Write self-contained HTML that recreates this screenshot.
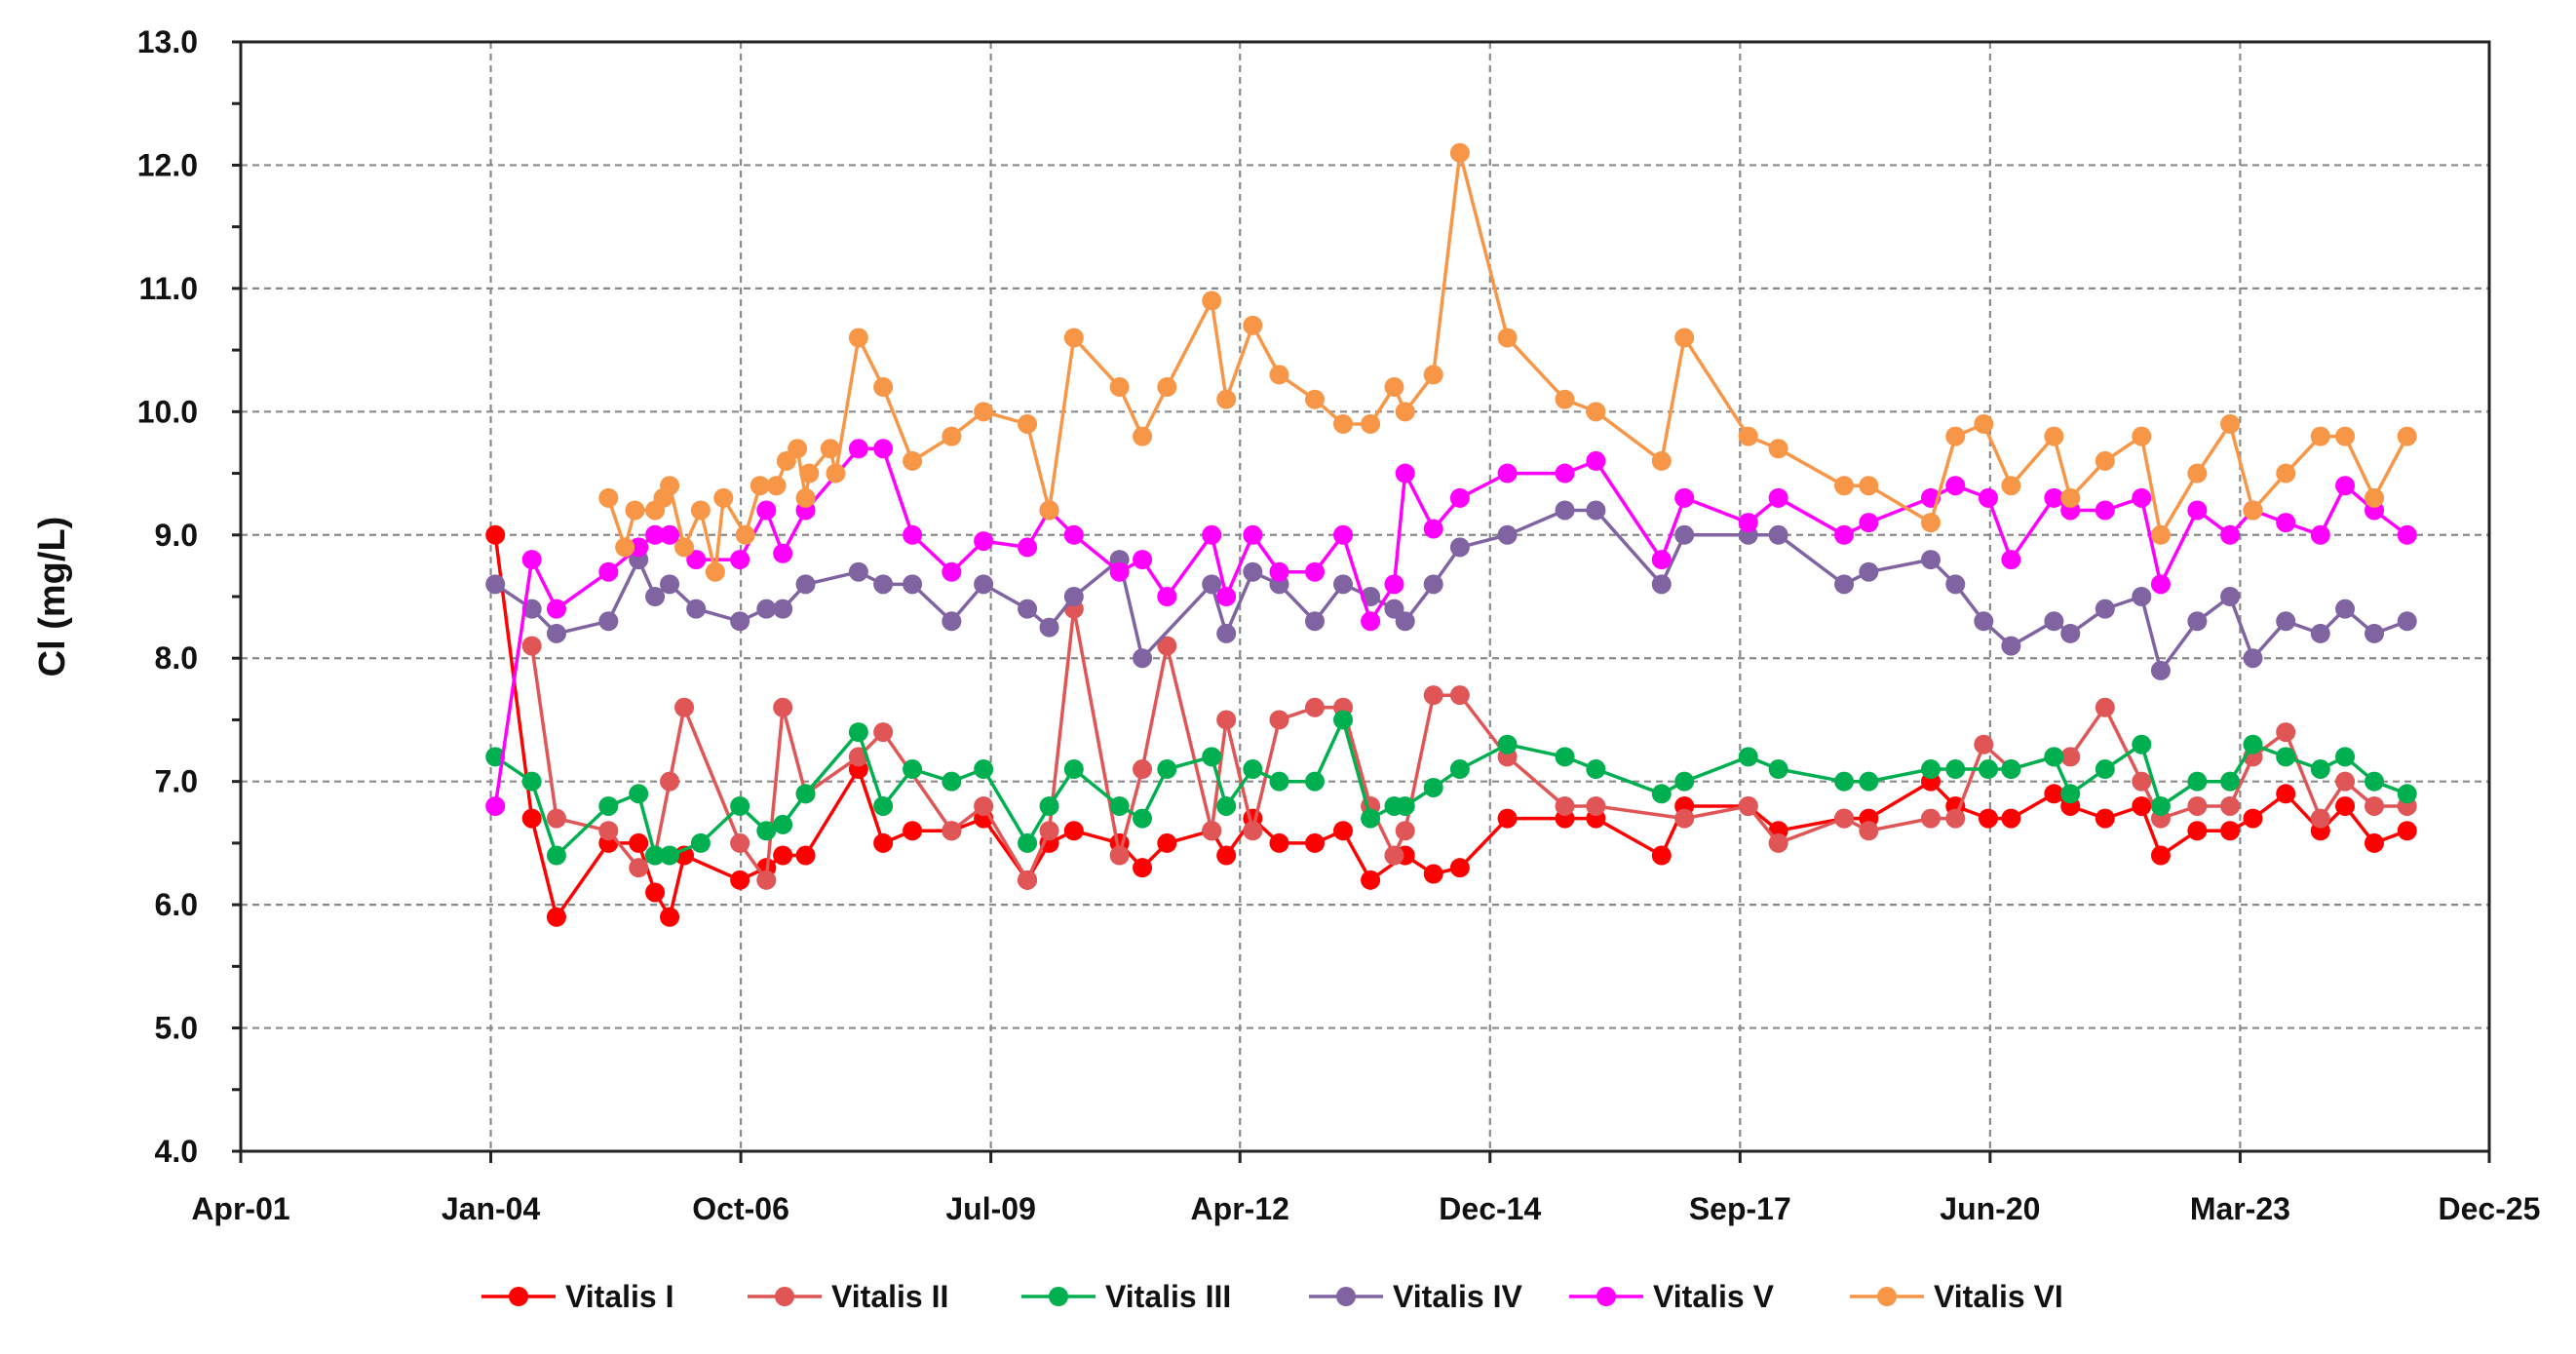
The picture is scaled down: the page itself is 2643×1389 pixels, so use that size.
<!DOCTYPE html>
<html><head><meta charset="utf-8"><style>
html,body{margin:0;padding:0;background:#fff;}
svg{display:block;font-family:"Liberation Sans",Arial,sans-serif;font-weight:bold;}
</style></head><body>
<svg id="chart" width="2643" height="1389" viewBox="0 0 2643 1389" xmlns="http://www.w3.org/2000/svg"></svg>
<script>
const seriesNames = ["Vitalis I","Vitalis II","Vitalis III","Vitalis IV","Vitalis V","Vitalis VI"];
const seriesColors = ["#ff0000","#e05555","#00b050","#8064a2","#ff00ff","#f79646"];
const yTicks = [4,5,6,7,8,9,10,11,12,13];
const xTickLabels = ["Apr-01","Jan-04","Oct-06","Jul-09","Apr-12","Dec-14","Sep-17","Jun-20","Mar-23","Dec-25"];
const xTickYears = [2001.30,2004.04,2006.78,2009.52,2012.25,2014.99,2017.73,2020.47,2023.21,2025.94];

const t1 = [2004.09,2004.49,2004.76,2005.33,2005.66,2005.84,2006.00,2006.16,2006.77,2007.06,2007.24,2007.49,2008.07,2008.34,2008.66,2009.09,2009.44,2009.92,2010.16,2010.43,2010.93,2011.18,2011.45,2011.94,2012.10,2012.39,2012.68,2013.07,2013.38,2013.68,2014.06,2014.37,2014.66,2015.18,2015.81,2016.15,2016.87,2017.12,2017.82,2018.15,2018.87,2019.14,2019.82,2020.09,2020.45,2020.70,2021.17,2021.35,2021.73,2022.13,2022.34,2022.74,2023.10,2023.35,2023.71,2024.09,2024.36,2024.68,2025.04];
const v1 = [9.0,6.7,5.9,6.5,6.5,6.1,5.9,6.4,6.2,6.3,6.4,6.4,7.1,6.5,6.6,6.6,6.7,6.2,6.5,6.6,6.5,6.3,6.5,6.6,6.4,6.7,6.5,6.5,6.6,6.2,6.4,6.25,6.3,6.7,6.7,6.7,6.4,6.8,6.8,6.6,6.7,6.7,7.0,6.8,6.7,6.7,6.9,6.8,6.7,6.8,6.4,6.6,6.6,6.7,6.9,6.6,6.8,6.5,6.6];

const t2 = [2004.49,2004.76,2005.33,2005.66,2005.84,2006.00,2006.16,2006.77,2007.06,2007.24,2007.49,2008.07,2008.34,2009.09,2009.44,2009.92,2010.16,2010.43,2010.93,2011.18,2011.45,2011.94,2012.10,2012.39,2012.68,2013.07,2013.38,2013.68,2013.94,2014.06,2014.37,2014.66,2015.18,2015.81,2016.15,2017.12,2017.82,2018.15,2018.87,2019.14,2019.82,2020.09,2020.40,2020.70,2021.17,2021.35,2021.73,2022.13,2022.34,2022.74,2023.10,2023.35,2023.71,2024.09,2024.36,2024.68,2025.04];
const v2 = [8.1,6.7,6.6,6.3,6.4,7.0,7.6,6.5,6.2,7.6,6.9,7.2,7.4,6.6,6.8,6.2,6.6,8.4,6.4,7.1,8.1,6.6,7.5,6.6,7.5,7.6,7.6,6.8,6.4,6.6,7.7,7.7,7.2,6.8,6.8,6.7,6.8,6.5,6.7,6.6,6.7,6.7,7.3,7.1,7.2,7.2,7.6,7.0,6.7,6.8,6.8,7.2,7.4,6.7,7.0,6.8,6.8];

const t3 = [2004.09,2004.49,2004.76,2005.33,2005.66,2005.84,2006.00,2006.34,2006.77,2007.06,2007.24,2007.49,2008.07,2008.34,2008.66,2009.09,2009.44,2009.92,2010.16,2010.43,2010.93,2011.18,2011.45,2011.94,2012.10,2012.39,2012.68,2013.07,2013.38,2013.68,2013.94,2014.06,2014.37,2014.66,2015.18,2015.81,2016.15,2016.87,2017.12,2017.82,2018.15,2018.87,2019.14,2019.82,2020.09,2020.45,2020.70,2021.17,2021.35,2021.73,2022.13,2022.34,2022.74,2023.10,2023.35,2023.71,2024.09,2024.36,2024.68,2025.04];
const v3 = [7.2,7.0,6.4,6.8,6.9,6.4,6.4,6.5,6.8,6.6,6.65,6.9,7.4,6.8,7.1,7.0,7.1,6.5,6.8,7.1,6.8,6.7,7.1,7.2,6.8,7.1,7.0,7.0,7.5,6.7,6.8,6.8,6.95,7.1,7.3,7.2,7.1,6.9,7.0,7.2,7.1,7.0,7.0,7.1,7.1,7.1,7.1,7.2,6.9,7.1,7.3,6.8,7.0,7.0,7.3,7.2,7.1,7.2,7.0,6.9];

const t4 = [2004.09,2004.49,2004.76,2005.33,2005.66,2005.84,2006.00,2006.29,2006.77,2007.06,2007.24,2007.49,2008.07,2008.34,2008.66,2009.09,2009.44,2009.92,2010.16,2010.43,2010.93,2011.18,2011.94,2012.10,2012.39,2012.68,2013.07,2013.38,2013.68,2013.94,2014.06,2014.37,2014.66,2015.18,2015.81,2016.15,2016.87,2017.12,2017.82,2018.15,2018.87,2019.14,2019.82,2020.09,2020.40,2020.70,2021.17,2021.35,2021.73,2022.13,2022.34,2022.74,2023.10,2023.35,2023.71,2024.09,2024.36,2024.68,2025.04];
const v4 = [8.6,8.4,8.2,8.3,8.8,8.5,8.6,8.4,8.3,8.4,8.4,8.6,8.7,8.6,8.6,8.3,8.6,8.4,8.25,8.5,8.8,8.0,8.6,8.2,8.7,8.6,8.3,8.6,8.5,8.4,8.3,8.6,8.9,9.0,9.2,9.2,8.6,9.0,9.0,9.0,8.6,8.7,8.8,8.6,8.3,8.1,8.3,8.2,8.4,8.5,7.9,8.3,8.5,8.0,8.3,8.2,8.4,8.2,8.3];

const t5 = [2004.09,2004.49,2004.76,2005.33,2005.66,2005.84,2006.00,2006.29,2006.77,2007.06,2007.24,2007.49,2008.07,2008.34,2008.66,2009.09,2009.44,2009.92,2010.16,2010.43,2010.93,2011.18,2011.45,2011.94,2012.10,2012.39,2012.68,2013.07,2013.38,2013.68,2013.94,2014.06,2014.37,2014.66,2015.18,2015.81,2016.15,2016.87,2017.12,2017.82,2018.15,2018.87,2019.14,2019.82,2020.09,2020.45,2020.70,2021.17,2021.35,2021.73,2022.13,2022.34,2022.74,2023.10,2023.35,2023.71,2024.09,2024.36,2024.68,2025.04];
const v5 = [6.8,8.8,8.4,8.7,8.9,9.0,9.0,8.8,8.8,9.2,8.85,9.2,9.7,9.7,9.0,8.7,8.95,8.9,9.2,9.0,8.7,8.8,8.5,9.0,8.5,9.0,8.7,8.7,9.0,8.3,8.6,9.5,9.05,9.3,9.5,9.5,9.6,8.8,9.3,9.1,9.3,9.0,9.1,9.3,9.4,9.3,8.8,9.3,9.2,9.2,9.3,8.6,9.2,9.0,9.2,9.1,9.0,9.4,9.2,9.0];

const t6 = [2005.33,2005.51,2005.62,2005.84,2005.93,2006.00,2006.16,2006.34,2006.50,2006.59,2006.83,2006.99,2007.17,2007.28,2007.40,2007.49,2007.53,2007.76,2007.82,2008.07,2008.34,2008.66,2009.09,2009.44,2009.92,2010.16,2010.43,2010.93,2011.18,2011.45,2011.94,2012.10,2012.39,2012.68,2013.07,2013.38,2013.68,2013.94,2014.06,2014.37,2014.66,2015.18,2015.81,2016.15,2016.87,2017.12,2017.82,2018.15,2018.87,2019.14,2019.82,2020.09,2020.40,2020.70,2021.17,2021.35,2021.73,2022.13,2022.34,2022.74,2023.10,2023.35,2023.71,2024.09,2024.36,2024.68,2025.04];
const v6 = [9.3,8.9,9.2,9.2,9.3,9.4,8.9,9.2,8.7,9.3,9.0,9.4,9.4,9.6,9.7,9.3,9.5,9.7,9.5,10.6,10.2,9.6,9.8,10.0,9.9,9.2,10.6,10.2,9.8,10.2,10.9,10.1,10.7,10.3,10.1,9.9,9.9,10.2,10.0,10.3,12.1,10.6,10.1,10.0,9.6,10.6,9.8,9.7,9.4,9.4,9.1,9.8,9.9,9.4,9.8,9.3,9.6,9.8,9.0,9.5,9.9,9.2,9.5,9.8,9.8,9.3,9.8];

const seriesT = [t1,t2,t3,t4,t5,t6];
const seriesV = [v1,v2,v3,v4,v5,v6];

const X0=247, X1=2554, Y0=1181, Y1=43;
const xMin=2001.30, xMax=2025.94, yMin=4, yMax=13;
function xs(t){return X0+(t-xMin)/(xMax-xMin)*(X1-X0);}
function ys(v){return Y0-(v-yMin)/(yMax-yMin)*(Y0-Y1);}

const svg=document.getElementById('chart');
const NS='http://www.w3.org/2000/svg';
function mk(tag,attrs,parent){const e=document.createElementNS(NS,tag);for(const k in attrs)e.setAttribute(k,attrs[k]);(parent||svg).appendChild(e);return e;}

// grid
const grid=mk('g',{});


yTicks.forEach(v=>{ if(v>yMin&&v<yMax){const l=mk('line',{x1:X0,x2:X1,y1:ys(v),y2:ys(v),stroke:'#8a8a8a','stroke-width':2.2,'stroke-dasharray':'7,5'},grid);

}});
xTickYears.forEach(t=>{ if(t>xMin+0.01&&t<xMax-0.01){const l=mk('line',{x1:xs(t),x2:xs(t),y1:Y1,y2:Y0,stroke:'#8a8a8a','stroke-width':2.2,'stroke-dasharray':'7,5'},grid);

}});

// axes box
const box=mk('rect',{x:X0,y:Y1,width:X1-X0,height:Y0-Y1,fill:'none',stroke:'#222','stroke-width':3});



// y ticks + labels
const yAxis=mk('g',{});


for(let v=yMin;v<=yMax+0.001;v+=0.5){mk('line',{x1:X0-9,x2:X0,y1:ys(v),y2:ys(v),stroke:'#222','stroke-width':3},yAxis);}
yTicks.forEach(v=>{const t=mk('text',{x:X0-44,y:ys(v)+11,'text-anchor':'end','font-size':32,fill:'#111'},yAxis);t.textContent=v.toFixed(1);

});
const yt=mk('text',{x:0,y:0,transform:`translate(66,${(Y0+Y1)/2}) rotate(-90)`,'text-anchor':'middle','font-size':38,fill:'#111'});
yt.textContent='Cl (mg/L)';



// x ticks + labels
const xAxis=mk('g',{});


xTickYears.forEach((t,i)=>{mk('line',{x1:xs(t),x2:xs(t),y1:Y0,y2:Y0+12,stroke:'#222','stroke-width':3},xAxis);
const tx=mk('text',{x:xs(t),y:Y0+70,'text-anchor':'middle','font-size':32,fill:'#111'},xAxis);tx.textContent=xTickLabels[i];

});

// series
seriesNames.forEach((name,si)=>{
  const g=mk('g',{});
  
  
  const T=seriesT[si],V=seriesV[si];
  const pts=T.map((t,i)=>xs(t).toFixed(1)+','+ys(V[i]).toFixed(1)).join(' ');
  const pl=mk('polyline',{points:pts,fill:'none',stroke:seriesColors[si],'stroke-width':3.5,'stroke-linejoin':'round'},g);
  
  
  T.forEach((t,i)=>{const c=mk('circle',{cx:xs(t),cy:ys(V[i]),r:10,fill:seriesColors[si]},g);
  
  });
});

// legend
const legX=[494,767,1048,1343,1610,1898];
const leg=mk('g',{});


seriesNames.forEach((name,i)=>{
  const e=mk('g',{},leg);
  
  
  const x=legX[i],y=1330;
  mk('line',{x1:x,x2:x+76,y1:y,y2:y,stroke:seriesColors[i],'stroke-width':3.5},e);
  mk('circle',{cx:x+38,cy:y,r:10,fill:seriesColors[i]},e);
  const t=mk('text',{x:x+86,y:y+11,'font-size':32,fill:'#111'},e);t.textContent=name;
});
</script>
</body></html>
